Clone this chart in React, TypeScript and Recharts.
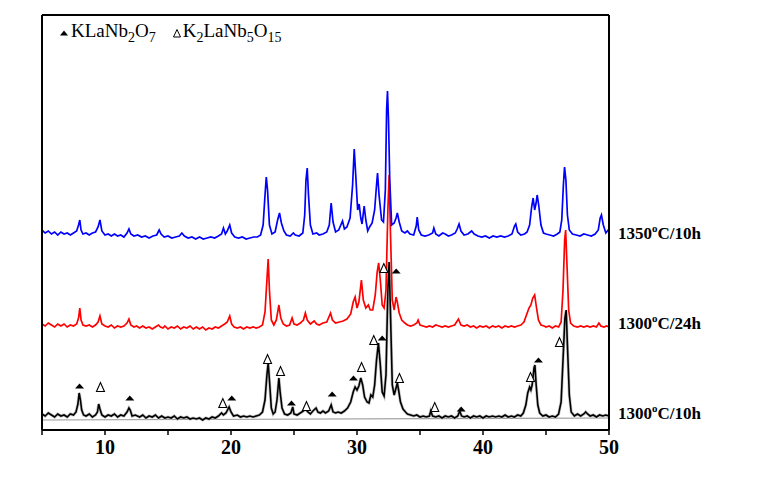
import React from 'react'
import {
  ComposedChart, Line, Scatter, XAxis, YAxis, Legend,
} from 'recharts'

// 2-theta (deg) vs intensity (arb., traces already offset)
const pattern1300h10: [number, number][] = [
  [5.0, 16], [5.25, 14], [5.5, 17], [5.75, 15], [6.0, 13], [6.25, 16], [6.5, 14], [6.75, 15], [7.0, 13], [7.25, 16],
  [7.5, 15], [7.7, 18], [7.85, 26], [7.95, 37], [8.05, 30], [8.15, 20], [8.3, 15], [8.5, 14], [8.75, 16], [9.0, 13],
  [9.25, 15], [9.4, 18], [9.5, 26], [9.6, 21], [9.75, 15], [10.0, 13], [10.25, 15], [10.5, 14], [10.75, 16], [11.0, 13],
  [11.25, 15], [11.5, 14], [11.75, 18], [11.9, 22], [12.0, 20], [12.15, 14], [12.4, 15], [12.75, 13], [13.0, 15], [13.25, 12],
  [13.5, 14], [13.75, 13], [14.0, 15], [14.25, 12], [14.5, 14], [14.75, 12], [15.0, 13], [15.25, 12], [15.5, 14], [15.75, 11],
  [16.0, 13], [16.25, 12], [16.5, 13], [16.75, 11], [17.0, 12], [17.25, 11], [17.5, 12], [17.75, 10], [18.0, 12], [18.25, 11],
  [18.5, 13], [18.75, 12], [19.0, 14], [19.25, 17], [19.4, 15], [19.6, 17], [19.85, 23], [20.0, 18], [20.2, 14], [20.5, 15],
  [20.75, 13], [21.0, 14], [21.25, 13], [21.5, 14], [21.75, 13], [22.0, 14], [22.25, 15], [22.5, 18], [22.7, 30], [22.85, 55],
  [22.95, 67], [23.05, 50], [23.2, 22], [23.35, 16], [23.5, 18], [23.65, 30], [23.8, 52], [23.9, 38], [24.05, 22], [24.25, 16],
  [24.5, 15], [24.75, 17], [24.9, 23], [25.0, 16], [25.25, 15], [25.5, 17], [25.75, 19], [25.9, 21], [26.1, 18], [26.3, 16],
  [26.5, 19], [26.75, 22], [26.9, 18], [27.1, 17], [27.3, 19], [27.5, 17], [27.75, 19], [27.95, 25], [28.1, 18], [28.3, 17],
  [28.5, 18], [28.75, 17], [29.0, 19], [29.25, 22], [29.5, 28], [29.7, 38], [29.85, 43], [30.0, 40], [30.15, 44], [30.3, 52],
  [30.45, 45], [30.6, 33], [30.8, 28], [30.95, 27], [31.1, 35], [31.25, 33], [31.4, 45], [31.55, 70], [31.7, 87], [31.85, 65],
  [32.0, 38], [32.15, 34], [32.3, 55], [32.45, 140], [32.55, 168], [32.65, 120], [32.8, 45], [32.95, 35], [33.1, 42], [33.2, 47],
  [33.3, 40], [33.45, 28], [33.65, 21], [33.85, 18], [34.0, 16], [34.25, 15], [34.5, 14], [34.75, 15], [35.0, 13], [35.25, 14],
  [35.5, 13], [35.75, 14], [35.85, 19], [36.0, 14], [36.25, 13], [36.5, 14], [36.75, 12], [37.0, 14], [37.25, 13], [37.5, 14],
  [37.75, 12], [38.0, 14], [38.15, 19], [38.3, 14], [38.5, 13], [38.75, 14], [39.0, 12], [39.25, 14], [39.5, 13], [39.75, 14],
  [40.0, 12], [40.25, 14], [40.5, 13], [40.75, 14], [41.0, 13], [41.25, 14], [41.5, 13], [41.75, 15], [42.0, 13], [42.25, 14],
  [42.5, 13], [42.75, 15], [43.0, 14], [43.2, 17], [43.4, 25], [43.55, 37], [43.7, 43], [43.8, 40], [43.9, 45], [44.05, 62],
  [44.12, 65], [44.22, 45], [44.35, 25], [44.5, 17], [44.75, 14], [45.0, 15], [45.25, 13], [45.5, 14], [45.75, 13], [46.0, 16],
  [46.2, 28], [46.35, 70], [46.5, 112], [46.6, 120], [46.7, 85], [46.85, 35], [47.0, 18], [47.25, 14], [47.5, 16], [47.75, 14],
  [48.0, 16], [48.15, 18], [48.3, 16], [48.5, 14], [48.75, 15], [49.0, 13], [49.25, 15], [49.5, 14], [49.75, 15], [50.0, 14],
]

const pattern1300h24: [number, number][] = [
  [5.0, 106], [5.25, 104], [5.5, 107], [5.75, 105], [6.0, 103], [6.25, 106], [6.5, 104], [6.75, 106], [7.0, 103], [7.25, 105],
  [7.5, 104], [7.75, 106], [7.9, 112], [8.0, 122], [8.1, 110], [8.25, 105], [8.5, 104], [8.75, 105], [9.0, 103], [9.25, 105],
  [9.45, 108], [9.6, 114], [9.75, 106], [10.0, 104], [10.25, 103], [10.5, 105], [10.75, 102], [11.0, 104], [11.25, 103], [11.5, 104],
  [11.75, 107], [11.9, 111], [12.05, 105], [12.3, 103], [12.5, 104], [12.75, 102], [13.0, 104], [13.25, 102], [13.5, 103], [13.75, 101],
  [14.0, 103], [14.25, 105], [14.4, 103], [14.6, 102], [14.75, 104], [15.0, 101], [15.25, 103], [15.5, 102], [15.75, 104], [16.0, 101],
  [16.25, 103], [16.5, 102], [16.75, 104], [17.0, 101], [17.25, 103], [17.5, 101], [17.75, 103], [18.0, 100], [18.25, 102], [18.5, 101],
  [18.75, 103], [19.0, 102], [19.25, 104], [19.5, 106], [19.7, 108], [19.9, 114], [20.05, 106], [20.25, 103], [20.5, 102], [20.75, 103],
  [21.0, 101], [21.25, 103], [21.5, 102], [21.75, 103], [22.0, 102], [22.25, 103], [22.5, 105], [22.7, 118], [22.85, 150], [22.95, 171],
  [23.05, 140], [23.2, 110], [23.4, 105], [23.6, 110], [23.8, 125], [23.95, 112], [24.15, 106], [24.4, 104], [24.65, 105], [24.85, 112],
  [25.0, 106], [25.25, 105], [25.5, 107], [25.75, 110], [25.9, 117], [26.05, 110], [26.3, 106], [26.6, 109], [26.8, 106], [27.0, 105],
  [27.3, 107], [27.6, 108], [27.9, 117], [28.05, 110], [28.3, 107], [28.6, 108], [28.9, 109], [29.2, 111], [29.5, 116], [29.7, 128],
  [29.85, 133], [30.0, 122], [30.15, 128], [30.35, 150], [30.5, 130], [30.7, 122], [30.9, 125], [31.05, 120], [31.25, 120], [31.45, 135],
  [31.6, 158], [31.72, 167], [31.85, 150], [32.0, 125], [32.15, 122], [32.3, 140], [32.45, 220], [32.55, 255], [32.65, 200], [32.8, 130],
  [32.95, 120], [33.1, 133], [33.2, 128], [33.35, 117], [33.55, 110], [33.8, 107], [34.0, 105], [34.25, 104], [34.5, 105], [34.75, 107],
  [34.85, 110], [35.0, 105], [35.25, 104], [35.5, 103], [35.75, 104], [36.0, 103], [36.25, 105], [36.5, 104], [36.75, 103], [37.0, 104],
  [37.25, 103], [37.5, 104], [37.75, 105], [38.05, 111], [38.25, 105], [38.5, 104], [38.75, 105], [39.0, 103], [39.25, 104], [39.5, 102],
  [39.75, 104], [40.0, 103], [40.25, 104], [40.5, 102], [40.75, 104], [41.0, 103], [41.25, 104], [41.5, 102], [41.75, 104], [42.0, 103],
  [42.25, 104], [42.5, 103], [42.75, 104], [43.0, 105], [43.25, 108], [43.45, 115], [43.65, 122], [43.8, 125], [43.95, 132], [44.1, 135],
  [44.25, 122], [44.4, 110], [44.6, 105], [44.85, 104], [45.0, 103], [45.25, 104], [45.5, 102], [45.75, 104], [46.0, 103], [46.2, 108],
  [46.35, 140], [46.48, 190], [46.56, 200], [46.65, 170], [46.8, 120], [46.95, 107], [47.2, 104], [47.5, 103], [47.75, 104], [48.0, 103],
  [48.25, 104], [48.5, 103], [48.75, 104], [49.0, 103], [49.2, 107], [49.35, 104], [49.6, 103], [49.8, 104], [50.0, 103],
]

const pattern1350h10: [number, number][] = [
  [5.0, 200], [5.25, 197], [5.5, 199], [5.75, 196], [6.0, 198], [6.25, 195], [6.5, 198], [6.75, 196], [7.0, 197], [7.25, 195],
  [7.5, 197], [7.75, 199], [7.9, 205], [8.0, 210], [8.1, 200], [8.25, 196], [8.5, 197], [8.75, 195], [9.0, 197], [9.25, 198],
  [9.45, 203], [9.6, 210], [9.75, 199], [10.0, 195], [10.25, 196], [10.5, 194], [10.75, 196], [11.0, 194], [11.25, 195], [11.5, 193],
  [11.75, 197], [11.9, 201], [12.05, 196], [12.3, 194], [12.6, 195], [12.9, 193], [13.2, 194], [13.5, 192], [13.8, 194], [14.1, 195],
  [14.3, 200], [14.45, 196], [14.7, 193], [15.0, 194], [15.3, 192], [15.6, 193], [15.9, 194], [16.1, 197], [16.3, 194], [16.6, 192],
  [16.9, 193], [17.2, 191], [17.5, 193], [17.8, 191], [18.1, 192], [18.4, 193], [18.7, 192], [19.0, 194], [19.25, 196], [19.4, 202],
  [19.55, 196], [19.7, 199], [19.9, 205], [20.05, 197], [20.3, 193], [20.6, 192], [20.9, 193], [21.2, 191], [21.5, 192], [21.8, 193],
  [22.1, 193], [22.35, 195], [22.55, 205], [22.7, 235], [22.8, 253], [22.9, 240], [23.05, 205], [23.25, 196], [23.5, 198], [23.7, 210],
  [23.85, 217], [24.0, 207], [24.2, 199], [24.4, 195], [24.7, 194], [24.95, 197], [25.1, 195], [25.4, 194], [25.7, 197], [25.85, 215],
  [25.95, 250], [26.05, 262], [26.15, 235], [26.3, 205], [26.5, 196], [26.8, 197], [27.0, 195], [27.3, 196], [27.6, 198], [27.8, 205],
  [27.95, 227], [28.1, 208], [28.3, 198], [28.55, 200], [28.85, 209], [29.0, 201], [29.2, 203], [29.45, 212], [29.65, 245], [29.78, 281],
  [29.9, 255], [30.05, 220], [30.17, 226], [30.3, 212], [30.4, 206], [30.57, 224], [30.7, 210], [30.85, 199], [31.0, 203], [31.2, 207],
  [31.4, 220], [31.55, 245], [31.63, 257], [31.75, 235], [31.95, 210], [32.1, 208], [32.25, 240], [32.35, 320], [32.42, 339], [32.5, 310],
  [32.6, 250], [32.75, 205], [32.95, 207], [33.1, 212], [33.2, 217], [33.35, 208], [33.55, 199], [33.8, 197], [34.0, 199], [34.2, 196],
  [34.5, 195], [34.7, 204], [34.78, 213], [34.9, 200], [35.1, 195], [35.4, 194], [35.7, 195], [36.0, 197], [36.1, 202], [36.25, 196],
  [36.5, 194], [36.8, 197], [37.0, 196], [37.25, 194], [37.5, 195], [37.8, 197], [37.95, 201], [38.1, 206], [38.25, 199], [38.5, 195],
  [38.8, 196], [39.1, 199], [39.3, 196], [39.6, 194], [39.9, 193], [40.2, 194], [40.5, 192], [40.8, 194], [41.1, 193], [41.4, 194],
  [41.7, 193], [42.0, 194], [42.3, 196], [42.5, 204], [42.6, 206], [42.75, 198], [43.0, 195], [43.3, 196], [43.5, 198], [43.7, 205],
  [43.85, 222], [43.98, 232], [44.1, 220], [44.2, 226], [44.3, 235], [44.42, 225], [44.6, 205], [44.8, 197], [45.0, 196], [45.3, 195],
  [45.6, 194], [45.9, 196], [46.1, 198], [46.25, 210], [46.38, 245], [46.47, 263], [46.58, 250], [46.7, 215], [46.85, 200], [47.1, 196],
  [47.4, 195], [47.7, 194], [48.0, 196], [48.3, 195], [48.6, 194], [48.9, 196], [49.15, 200], [49.3, 212], [49.4, 215], [49.55, 205],
  [49.75, 197], [50.0, 201],
]

// grey background line under the 1300/10h trace
const background1300h10: [number, number][] = [[5, 10], [50, 12]]

// phase marks: ▲ KLaNb2O7, Δ K2LaNb5O15
const kLaNb2O7Marks: [number, number][] = [
  [7.98, 44], [11.97, 32], [20.06, 32], [24.8, 27], [28.03, 36], [29.72, 52], [32.0, 92], [33.11, 159], [38.27, 21], [44.4, 70],
]
const k2LaNb5O15Marks: [number, number][] = [
  [9.64, 43], [19.35, 27], [22.9, 71], [23.93, 59], [25.99, 24], [30.36, 63], [31.33, 90], [32.13, 162], [33.37, 52], [36.17, 23],
  [43.77, 53], [46.07, 88],
]

const xTicks = [5, 10, 15, 20, 25, 30, 35, 40, 45, 50]
const sampleLevels = [17, 107, 197]
const sampleTemps = ['1300', '1300', '1350']
const sampleTimes = ['10h', '24h', '10h']

const toPts = (arr: [number, number][]) => arr.map(([x, y]) => ({ x, y }))

const FONT = '"Liberation Serif", "Times New Roman", serif'

const XTick = (props: any) => {
  const { x, y, payload } = props
  if (payload.value % 10 !== 0) return <g />
  return (
    <text x={x} y={y + 17} textAnchor="middle" fontFamily={FONT} fontWeight="bold" fontSize={20} fill="#000">
      {payload.value}
    </text>
  )
}

const SampleTick = (props: any) => {
  const { x, y, payload } = props
  const i = sampleLevels.indexOf(payload.value)
  if (i < 0) return <g />
  return (
    <text x={x + 1} y={y + 6} fontFamily={FONT} fontWeight="bold" fontSize={17} fill="#000">
      {sampleTemps[i]}
      <tspan dy={-7} fontSize={11}>o</tspan>
      <tspan dy={7}>C/{sampleTimes[i]}</tspan>
    </text>
  )
}

const FilledTri = (props: any) => {
  const { cx, cy } = props
  return <path d={`M${cx - 4.5},${cy + 2.5} L${cx},${cy - 2.5} L${cx + 4.5},${cy + 2.5} Z`} fill="#000" />
}

const OpenTri = (props: any) => {
  const { cx, cy } = props
  return (
    <path
      d={`M${cx - 4},${cy + 4.5} L${cx},${cy - 4.5} L${cx + 4},${cy + 4.5} Z`}
      fill="#fff"
      stroke="#000"
      strokeWidth={1.1}
    />
  )
}

const PhaseLegend = () => (
  <div style={{ fontFamily: FONT, fontSize: 19, color: '#000', whiteSpace: 'nowrap', display: 'flex', alignItems: 'center' }}>
    <svg width={10} height={8} style={{ marginRight: 2 }}>
      <path d="M1,6.5 L5,1.5 L9,6.5 Z" fill="#000" />
    </svg>
    <span>KLaNb<sub style={{ fontSize: 14 }}>2</sub>O<sub style={{ fontSize: 14 }}>7</sub></span>
    <svg width={10} height={10} style={{ marginLeft: 16, marginRight: 1 }}>
      <path d="M1.5,9 L5,1.5 L8.5,9 Z" fill="#fff" stroke="#000" strokeWidth={1} />
    </svg>
    <span>K<sub style={{ fontSize: 14 }}>2</sub>LaNb<sub style={{ fontSize: 14 }}>5</sub>O<sub style={{ fontSize: 14 }}>15</sub></span>
  </div>
)

export default function App() {
  return (
    <div style={{ position: 'absolute', left: 0, top: 0, width: 766, height: 478, background: '#fff' }}>
      <ComposedChart width={766} height={478} margin={{ top: 14, right: 7, bottom: 8, left: 41 }}>
        <XAxis
          dataKey="x"
          type="number"
          domain={[5, 50]}
          ticks={xTicks}
          allowDataOverflow
          height={40}
          tick={<XTick />}
          tickSize={5}
          tickLine={{ stroke: '#000', strokeWidth: 1.5 }}
          axisLine={{ stroke: '#000', strokeWidth: 2 }}
        />
        <XAxis
          xAxisId="top"
          orientation="top"
          dataKey="x"
          type="number"
          domain={[5, 50]}
          allowDataOverflow
          height={1}
          tick={false}
          tickLine={false}
          axisLine={{ stroke: '#000', strokeWidth: 2 }}
        />
        <YAxis
          yAxisId="left"
          type="number"
          domain={[0, 415]}
          allowDataOverflow
          width={1}
          tick={false}
          tickLine={false}
          axisLine={{ stroke: '#000', strokeWidth: 2 }}
        />
        <YAxis
          yAxisId="right"
          orientation="right"
          type="number"
          domain={[0, 415]}
          allowDataOverflow
          ticks={sampleLevels}
          width={150}
          tick={<SampleTick />}
          tickLine={false}
          axisLine={{ stroke: '#000', strokeWidth: 2 }}
        />
        <Legend
          verticalAlign="middle"
          align="center"
          layout="horizontal"
          content={<PhaseLegend />}
          wrapperStyle={{ top: 20, left: 59, width: 'auto' }}
        />
        <Line
          xAxisId="top"
          yAxisId="right"
          data={toPts(background1300h10)}
          dataKey="y"
          type="linear"
          stroke="#9a9a9a"
          strokeWidth={1.2}
          dot={false}
          isAnimationActive={false}
          legendType="none"
        />
        <Line
          yAxisId="left"
          data={toPts(pattern1300h10)}
          dataKey="y"
          type="linear"
          stroke="#c4c4c4"
          strokeWidth={3}
          dot={false}
          isAnimationActive={false}
        />
        <Line
          yAxisId="left"
          data={toPts(pattern1300h10)}
          dataKey="y"
          type="linear"
          stroke="#000"
          strokeWidth={1.6}
          dot={false}
          isAnimationActive={false}
        />
        <Line
          yAxisId="left"
          data={toPts(pattern1300h24)}
          dataKey="y"
          type="linear"
          stroke="#ff0000"
          strokeWidth={1.7}
          dot={false}
          isAnimationActive={false}
        />
        <Line
          yAxisId="left"
          data={toPts(pattern1350h10)}
          dataKey="y"
          type="linear"
          stroke="#0000ff"
          strokeWidth={1.7}
          dot={false}
          isAnimationActive={false}
        />
        <Scatter
          yAxisId="left"
          data={toPts(kLaNb2O7Marks)}
          dataKey="y"
          shape={<FilledTri />}
          isAnimationActive={false}
        />
        <Scatter
          yAxisId="left"
          data={toPts(k2LaNb5O15Marks)}
          dataKey="y"
          shape={<OpenTri />}
          isAnimationActive={false}
        />
      </ComposedChart>
    </div>
  )
}
